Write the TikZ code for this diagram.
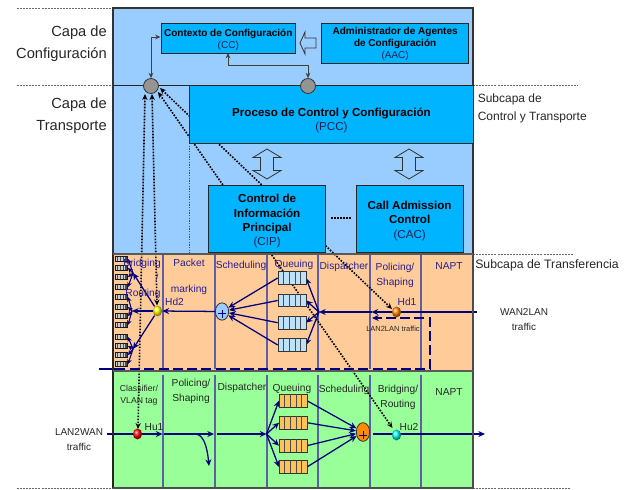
\documentclass[tikz,border=0pt]{standalone}
\usepackage{fontspec}
\setmainfont{Liberation Sans}
\usetikzlibrary{arrows.meta,calc,shapes.geometric}
\definecolor{skyb}{RGB}{153,204,255}
\definecolor{boxb}{RGB}{0,180,255}
\definecolor{orng}{RGB}{255,204,153}
\definecolor{grn}{RGB}{153,255,153}
\definecolor{navy2}{RGB}{0,0,128}
\definecolor{txtb}{RGB}{40,30,150}
\definecolor{qblue}{RGB}{190,225,250}
\definecolor{qor}{RGB}{255,195,85}
\definecolor{sepg}{RGB}{95,95,165}
\definecolor{codeb}{RGB}{30,30,80}
\pgfdeclarelayer{back}\pgfdeclarelayer{mid}\pgfsetlayers{back,mid,main}
\tikzset{
 bluebox/.style={draw=black!85,fill=boxb,line width=.7pt,align=center,inner sep=0pt,text=black,anchor=north west},
 fsa/.style={font=\fontsize{7.5}{9}\selectfont},
 fsb/.style={font=\fontsize{8.7}{10.8}\selectfont},
 hub/.style={circle,draw=black!80,fill=black!42,minimum size=11.2pt,inner sep=0pt,line width=.6pt},
 lbl/.style={font=\fontsize{7.65}{11.2}\selectfont,align=center,inner sep=0pt,text=black!85,yshift=-.6pt},
 lblb/.style={lbl,text=txtb},
 side/.style={font=\fontsize{11}{16.5}\selectfont,align=right,inner sep=0pt,text=black!85},
 sub/.style={font=\fontsize{9}{13.5}\selectfont,align=left,inner sep=0pt,anchor=west,text=black!85},
 guide/.style={line width=.6pt,black!60,dash pattern=on 1.5pt off .8pt},
 flow/.style={draw=navy2,line width=.95pt,-{Stealth[length=5pt,width=4.5pt]}},
 plain/.style={draw=navy2,line width=.95pt},
 fan/.style={draw=navy2,line width=.8pt,-{Stealth[length=3.5pt,width=3.5pt]}},
 thin2/.style={draw=black!75,line width=.7pt,{Stealth[length=4pt,width=3.5pt]}-{Stealth[length=4pt,width=3.5pt]}},
 ctl/.style={line width=1.2pt,black,dash pattern=on 1.2pt off 1.05pt,{Stealth[length=4.5pt,width=4pt]}-{Stealth[length=4.5pt,width=4pt]}},
 sepl/.style={draw=sepg,line width=.8pt},
 fat/.style={draw=black!80,line width=.6pt,fill=skyb},
 qbox/.style={draw=black!80,line width=.7pt,minimum width=21pt,minimum height=9.6pt,inner sep=0pt},
 sq/.style={draw=black!90,fill=black!70,minimum width=9pt,minimum height=4pt,inner sep=0pt,line width=.5pt,
   path picture={\foreach \k in {-3.2,-2.1,...,3.3}{\draw[white!80!black,line width=.55pt] (\k pt,-1.3pt)--(\k pt,1.3pt);}}},
 ballb/.style={ellipse,shading=ball,ball color=#1,minimum width=6.9pt,minimum height=8.2pt,inner sep=0pt},
 pluscirc/.style={ellipse,draw=black!80,fill=#1,minimum width=10pt,minimum height=13pt,inner sep=0pt,line width=.6pt},
}
\newcommand{\fatarrow}[1]{\draw[fat,shift={(#1,0)}] (0,149)--(14,157.5)--(6.5,157.5)--(6.5,170.5)--(14,170.5)--(0,179)--(-14,170.5)--(-6.5,170.5)--(-6.5,157.5)--(-14,157.5)--cycle;}
\begin{document}
\begin{tikzpicture}[x=.75pt,y=-.75pt]
\useasboundingbox (0,0) rectangle (626,490);
\begin{pgfonlayer}{back}
\fill[skyb] (113,8) rectangle (473,254);
\fill[orng] (113,254) rectangle (473,370);
\fill[grn] (113,371) rectangle (473,488);
\foreach \x in {163,215,267,318,370,421}{\draw[sepl] (\x,254)--(\x,369);\draw[sepl] (\x,375)--(\x,488);}
\end{pgfonlayer}
% guides
\draw[guide] (17,8)--(113,8) (17,85)--(113,85) (473,85)--(578,85) (473,254)--(574,254) (17,488)--(113,488) (473,488)--(570,488);
\draw[line width=.7pt,black!85] (113,85)--(189,85);
\draw[line width=.5pt,black!70,dash pattern=on 1pt off 1pt] (189,143)--(189,254);
\draw[black!80,line width=.8pt] (113,8) rectangle (473,254);
\draw[black!85,line width=1.1pt] (113,254)--(113,488);
\draw[black!70,line width=.8pt] (473,254)--(473,488)--(113,488);
\draw[black!65,line width=1.2pt] (113,254)--(473,254) (113,371)--(473,371);
% side texts
\node[side,anchor=east] (c1) at (107,43.5) {Capa de\\Configuración};
\node[side,anchor=east] (c2) at (107,115.5) {Capa de\\Transporte};
\node[sub] (c3) at (477.5,108) {Subcapa de\\Control y Transporte};
\node[sub,font=\fontsize{9.2}{12}\selectfont] (c4) at (475,265) {Subcapa de Transferencia};
\node[lbl,font=\fontsize{7.5}{11.2}\selectfont] (wan) at (524,318.5) {WAN2LAN\\traffic};
\node[lbl,font=\fontsize{7.5}{11.2}\selectfont] (lan) at (79,438.5) {LAN2WAN\\traffic};
% upper boxes
\node[bluebox,fsa,minimum width=101pt,minimum height=22.5pt] (cc) at (160.5,23) {\rule{0pt}{7.1pt}\bfseries Contexto de Configuración\\\textcolor{codeb}{(CC)}};
\node[bluebox,fsa,minimum width=110.5pt,minimum height=30.2pt] (aac) at (321,23) {\rule{0pt}{6.2pt}\bfseries Administrador de Agentes\\\bfseries de Configuración\\\textcolor{codeb}{(AAC)}};
\node[bluebox,fsb,minimum width=213pt,minimum height=43.5pt] (pcc) at (189,85) {\rule{0pt}{15.3pt}\bfseries Proceso de Control y Configuración\\\textcolor{codeb}{(PCC)}};
\node[bluebox,fsb,minimum width=88pt,minimum height=50.5pt] (cip) at (208,184.7) {\rule{0pt}{10.1pt}\bfseries Control de\\\bfseries Información\\\bfseries Principal\\\textcolor{codeb}{(CIP)}};
\node[bluebox,fsb,minimum width=80.2pt,minimum height=50.5pt] (cac) at (355.7,184.7) {\rule{0pt}{9.3pt}\bfseries Call Admission\\\bfseries Control\\\textcolor{codeb}{(CAC)}};
\draw[black,line width=1.2pt,dash pattern=on 1.2pt off 1.1pt] (331,218) -- (351,218);
% hubs
\node[hub] (hl) at (151,86) {};
\node[hub] (hr) at (308,86) {};
% fat arrows
\draw[fat] (300,43)--(305,32)--(305,38)--(316,38)--(316,48)--(305,48)--(305,54)--cycle;
\fatarrow{267}
\fatarrow{409}
% control connectors
\coordinate (ccl) at (160.5,37);
\coordinate (ccb) at (228,53);
\draw[thin2] (hl.north) |- (ccl);
\draw[thin2] (ccb) -- (228,65) -| (hr.north);
% balls
\node[ballb=orange] (hd1) at (396.5,312) {};
\node[ballb=yellow] (hd2) at (157.5,311) {};
\node[ballb=red] (hu1) at (137.5,434) {};
\node[ballb=cyan] (hu2) at (396.5,435) {};
\node[pluscirc=skyb] (pu) at (222,311.5) {};
\node[pluscirc=orange!90!yellow,minimum height=14pt] (pd) at (363,432) {};
\draw[navy2,line width=.7pt] (pu.center)+(-4,2)--+(4,2) (pu.center)+(0,-2)--+(0,6);
\draw[navy2,line width=.7pt] (pd.center)+(-4,3)--+(4,3) (pd.center)+(0,-1)--+(0,7);
% dotted control lines (behind boxes)
\begin{pgfonlayer}{back}
\coordinate (a1) at (145,94);
\coordinate (a2) at (152,94);
\coordinate (a3) at (158,92);
\coordinate (a4) at (160,88);
\draw[ctl] (a1) -- (138,429);
\draw[ctl] (a2) -- (157,305.5);
\draw[ctl] (a3) -- (392.5,428);
\draw[ctl] (a4) -- (392,309);
\end{pgfonlayer}
\begin{pgfonlayer}{mid}
% orange flows
\coordinate (wanin) at (477,312);
\coordinate (du) at (319,312);
\coordinate (m372) at (371.5,312);
\draw[plain] (wanin)--(hd1);
\draw[flow] (hd1)--(m372);
\draw[flow] (m372)--(du);
\draw[flow] (pu)--(hd2);
\foreach \i/\y in {1/278,2/300.5,3/322.7,4/345}{
  \draw[flow] (du)--(306,\y);
  \draw[flow] (277.7,\y)--(pu);
}
% fans
\coordinate (f1) at (133,273);
\coordinate (f2) at (132,311);
\coordinate (f3) at (133,349);
\draw[flow] (hd2)--(f1);
\draw[flow] (hd2)--(f2);
\draw[flow] (hd2)--(f3);
\foreach \y in {259,268,277,287}{\draw[fan] (f1)--(128,\y);}
\foreach \y in {297,307,316,325}{\draw[fan] (f2)--(128,\y);}
\foreach \y in {337,346,355,364}{\draw[fan] (f3)--(128,\y);}
% dashed loop
\coordinate (l1) at (372,318);
\draw[navy2,line width=1.4pt] (99,369)--(125,369);
\draw[navy2,line width=1.4pt,dash pattern=on 7.5pt off 3.2pt,-{Stealth[length=5pt,width=4.5pt]}] (130,369)--(430,369)--(430,318)--(l1);
% green flows
\coordinate (lanin) at (107,434);
\coordinate (g1) at (162.5,434);
\coordinate (g2) at (214,434);
\coordinate (dg) at (266.5,434);
\coordinate (hout) at (485,434);
\draw[plain] (lanin)--(hu1);
\draw[flow] (hu1)--(g1);
\draw[flow] (164,434)--(g2);
\draw[flow] (216.5,434)--(dg);
\draw[flow] (190,434)--(195,434) .. controls (203,434) and (207,445) .. (209,466);
\foreach \y in {400.7,422.7,445.7,467}{
  \draw[flow] (dg)--(279,\y);
  \draw[flow] (307,\y)--(pd);
}
\draw[flow] (373,434)--(hout);
\end{pgfonlayer}
% queues
\foreach \i/\y in {1/278,2/300.5,3/322.7,4/345}{
  \node[qbox,fill=qblue] (qa\i) at (292,\y) {};
  \foreach \k in {-8.5,-3,3,8.5}{\draw[black!70,line width=.6pt] (qa\i.center)+(\k,-6.4)--+(\k,6.4);}
}
\foreach \i/\y in {1/400.7,2/422.7,3/445.7,4/467}{
  \node[qbox,fill=qor] (qb\i) at (293,\y) {};
  \foreach \k in {-8.5,-3,3,8.5}{\draw[black!70,line width=.6pt] (qb\i.center)+(\k,-6.4)--+(\k,6.4);}
}
\foreach \y [count=\i] in {259,268,277,287,297,307,316,325,337,346,355,364}{
  \node[sq] (s\i) at (121,\y) {};
}
% labels orange
\node[lblb] (t1) at (142,263) {Bridging};
\node[lblb] (t2) at (143,293) {Routing};
\node[lblb] (t3) at (157,277) {/};
\node[lblb] (t4) at (189,262) {Packet};
\node[lblb] (t5) at (189,289) {marking};
\node[lblb] (t6) at (174.5,301) {Hd2};
\node[lblb] (t7) at (241,265) {Scheduling};
\node[lblb] (t8) at (294,264) {Queuing};
\node[lblb] (t9) at (344,266) {Dispatcher};
\node[lblb] (t10) at (395,274.5) {Policing/\\Shaping};
\node[lblb] (t11) at (449,265) {NAPT};
\node[lblb] (t12) at (407,301) {Hd1};
\node[lbl,font=\fontsize{5.6}{7}\selectfont] (t13) at (393,328) {LAN2LAN traffic};
% labels green
\node[lbl,font=\fontsize{6.5}{9}\selectfont] (u1) at (139,394) {Classifier/\\VLAN tag};
\node[lbl] (u2) at (191,390.5) {Policing/\\Shaping};
\node[lbl] (u3) at (242,387) {Dispatcher};
\node[lbl] (u4) at (292,388) {Queuing};
\node[lbl] (u5) at (344,389) {Scheduling};
\node[lbl] (u6) at (398,396.5) {Bridging/\\Routing};
\node[lbl] (u7) at (449,391) {NAPT};
\node[lbl] (u8) at (154,426) {Hu1};
\node[lbl] (u9) at (409,426) {Hu2};
\end{tikzpicture}
\end{document}
